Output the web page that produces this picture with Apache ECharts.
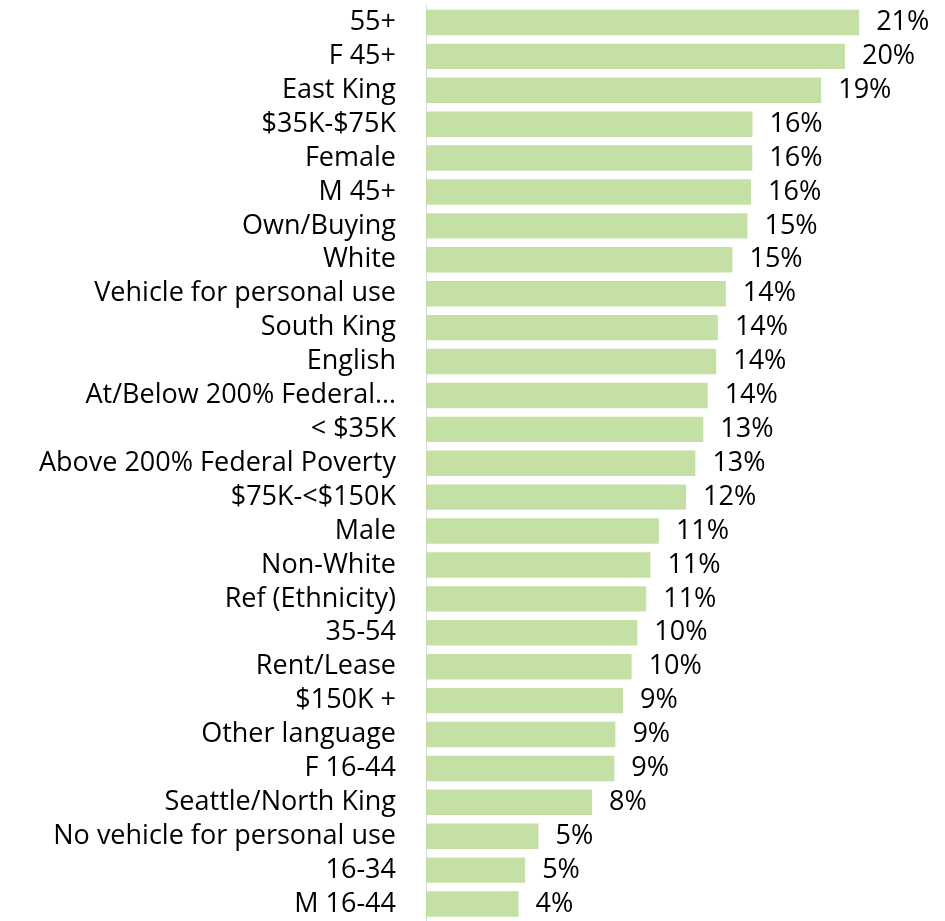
<!DOCTYPE html>
<html>
<head>
<meta charset="utf-8">
<script src="https://cdn.jsdelivr.net/npm/echarts@6/dist/echarts.min.js"></script>
<style>html,body{margin:0;padding:0;background:#fff}#c{width:945px;height:921px}</style>
</head>
<body>
<div id="c"></div>
<script>
var categories = ["55+","F 45+","East King","$35K-$75K","Female","M 45+","Own/Buying","White","Vehicle for personal use","South King","English","At/Below 200% Federal…","< $35K","Above 200% Federal Poverty","$75K-<$150K","Male","Non-White","Ref (Ethnicity)","35-54","Rent/Lease","$150K +","Other language","F 16-44","Seattle/North King","No vehicle for personal use","16-34","M 16-44"];
var values = [20.79,20.11,18.97,15.67,15.66,15.60,15.43,14.71,14.39,14.01,13.93,13.52,13.31,12.93,12.48,11.18,10.77,10.57,10.14,9.87,9.46,9.09,9.04,7.97,5.40,4.76,4.44];

var chart = echarts.init(document.getElementById('c'));
chart.setOption({
  animation: false,
  textStyle: {fontFamily: 'Open Sans'},
  grid: {left: 426, top: 5.5, width: 500, height: 918, containLabel: false},
  xAxis: {type: 'value', min: 0, max: 24, show: false},
  yAxis: {
    type: 'category', inverse: true, data: categories,
    axisLine: {show: true, lineStyle: {color: '#d9d9d9', width: 1}},
    axisTick: {show: false},
    axisLabel: {interval: 0, margin: 30, fontSize: 27, lineHeight: 30, color: '#000', fontFamily: 'Open Sans'}
  },
  series: [{
    type: 'bar', data: values, barCategoryGap: '25%',
    itemStyle: {color: '#c5e0a5'},
    label: {show: true, position: 'right', distance: 17, fontSize: 27, color: '#000', fontFamily: 'Open Sans',
      formatter: function(p){ return Math.round(p.value) + '%'; }}
  }]
});
</script>
</body>
</html>
